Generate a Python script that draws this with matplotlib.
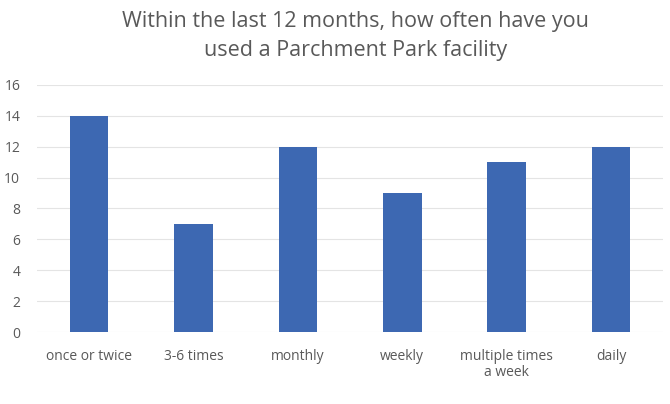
import matplotlib.pyplot as plt

categories = ["once or twice", "3-6 times", "monthly", "weekly", "multiple times\na week", "daily"]
counts = [14, 7, 12, 9, 11, 12]
y_ticks = [0, 2, 4, 6, 8, 10, 12, 14, 16]

plt.rcParams["font.family"] = ["Open Sans", "DejaVu Sans"]

fig = plt.figure(figsize=(6.7, 4.04), dpi=100)
ax = fig.add_axes([0.055, 0.178, 0.935, 0.612])

ax.bar(range(len(categories)), counts, width=0.37, color="#3d68b2", zorder=3)

ax.set_xlim(-0.5, len(categories) - 0.5)
ax.set_ylim(0, 16)
ax.set_yticks(y_ticks)
ax.set_xticks(range(len(categories)))
ax.set_xticklabels(categories, fontsize=10, color="#595959", linespacing=1.1)
ax.tick_params(axis="y", labelsize=10, labelcolor="#595959", length=0, pad=12)
ax.tick_params(axis="x", length=0, pad=12)
ax.grid(axis="y", color="#e4e4e4", linewidth=0.8, zorder=0)
for side in ["top", "right", "left", "bottom"]:
    ax.spines[side].set_visible(False)

fig.suptitle("Within the last 12 months, how often have you\nused a Parchment Park facility",
             x=0.53, y=0.972, fontsize=15.5, color="#595959", linespacing=1.5)

fig.savefig("out.png", dpi=100)
